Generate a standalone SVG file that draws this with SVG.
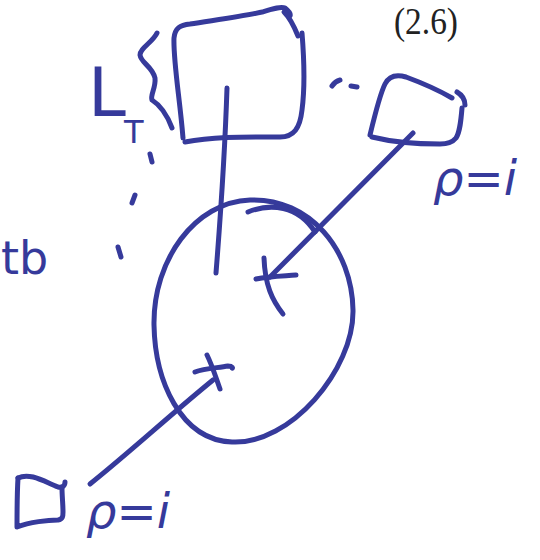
<svg xmlns="http://www.w3.org/2000/svg" width="540" height="560" viewBox="0 0 540 560">
  <style>
    .ink { fill: none; stroke: #363a9b; stroke-width: 5; stroke-linecap: round; stroke-linejoin: round; }
    .hand { fill: #363a9b; font-family: "DejaVu Sans", "Liberation Sans", sans-serif; font-style: italic; }
    .upright { fill: #363a9b; font-family: "DejaVu Sans", "Liberation Sans", sans-serif; font-style: normal; }
    .eq { fill: #222; font-family: "Liberation Serif", "DejaVu Serif", serif; }
  </style>
  <rect width="540" height="560" fill="#fff"/>

  <!-- equation number -->
  <text class="eq" x="394" y="34" font-size="38" textLength="64" lengthAdjust="spacingAndGlyphs">(2.6)</text>

  <!-- main body (tall box) -->
  <g id="main-box">
    <path class="ink" d="M183 138 C180 100 173 60 174 38 C175 28 180 25 190 24 C215 20 245 16 262 12 C272 9 281 6 285 8 C290 12 291 14 290 16"/>
    <path class="ink" d="M284 12 C290 18 294 26 298 36"/>
    <path class="ink" d="M302 33 C305 70 304 95 302 110 C300 128 294 137 280 137 C250 137 215 136 185 142"/>
  </g>

  <!-- brace and label L_T -->
  <g id="label-LT">
    <path class="ink" d="M157 33 C153 42 140 48 140 55 C141 63 152 66 155 78 C156 88 150 95 152 100 C160 105 166 112 172 128"/>
    <text class="upright" x="88" y="116" font-size="68">L</text>
    <text class="upright" x="124" y="143" font-size="32">T</text>
  </g>

  <!-- dotted marks -->
  <g id="dots">
    <path class="ink" d="M150 154 L152 162"/>
    <path class="ink" d="M135 195 L132 203"/>
    <path class="ink" d="M118 247 L121 257"/>
    <path class="ink" d="M332 86 C334 83 336 81 340 80"/>
    <path class="ink" d="M351 86 L357 87"/>
  </g>

  <!-- partial handwritten word at the left edge -->
  <g id="left-word">
    <text class="upright" x="1" y="274" font-size="46">tb</text>
  </g>

  <!-- small box, upper right -->
  <g id="box-upper">
    <path class="ink" d="M370 135 C376 110 381 92 385 84 C389 76 396 74 406 77 C425 84 440 91 452 98"/>
    <path class="ink" d="M457 92 C462 95 465 100 465 105"/>
    <path class="ink" d="M462 108 C461 120 460 132 456 138 C452 143 446 144 440 144 C415 144 392 142 372 137"/>
    <text class="hand" x="433" y="195" font-size="48">ρ=i</text>
  </g>

  <!-- small box, lower left -->
  <g id="box-lower">
    <path class="ink" d="M18 478 C17 495 17 512 17 527 C30 522 48 520 58 520 C63 519 63 516 63 512 C63 505 62 495 62 488"/>
    <path class="ink" d="M18 478 C30 472 45 482 58 487 C62 488 65 486 65 482"/>
    <text class="hand" x="86" y="528" font-size="48">ρ=i</text>
  </g>

  <!-- central ellipse -->
  <g id="ellipse">
    <path class="ink" d="M250 200 C310 198 352 250 353 310 C354 370 290 445 232 442 C180 440 155 380 154 325 C153 260 195 202 250 200 Z"/>
    <path class="ink" d="M248 212 C270 203 298 205 315 232"/>
    <!-- upper cross mark -->
    <path class="ink" d="M264 258 C265 285 272 300 283 314"/>
    <path class="ink" d="M256 279 C270 276 283 276 296 275"/>
    <!-- lower cross mark -->
    <path class="ink" d="M207 355 C212 365 215 375 220 389"/>
    <path class="ink" d="M195 372 C205 368 218 368 228 366 C233 366 233 369 232 368"/>
  </g>

  <!-- connectors -->
  <g id="connectors">
    <path class="ink" d="M227 88 C225 150 221 210 216 273"/>
    <path class="ink" d="M413 133 L270 277"/>
    <path class="ink" d="M90 484 C130 452 170 415 213 380"/>
  </g>
</svg>
